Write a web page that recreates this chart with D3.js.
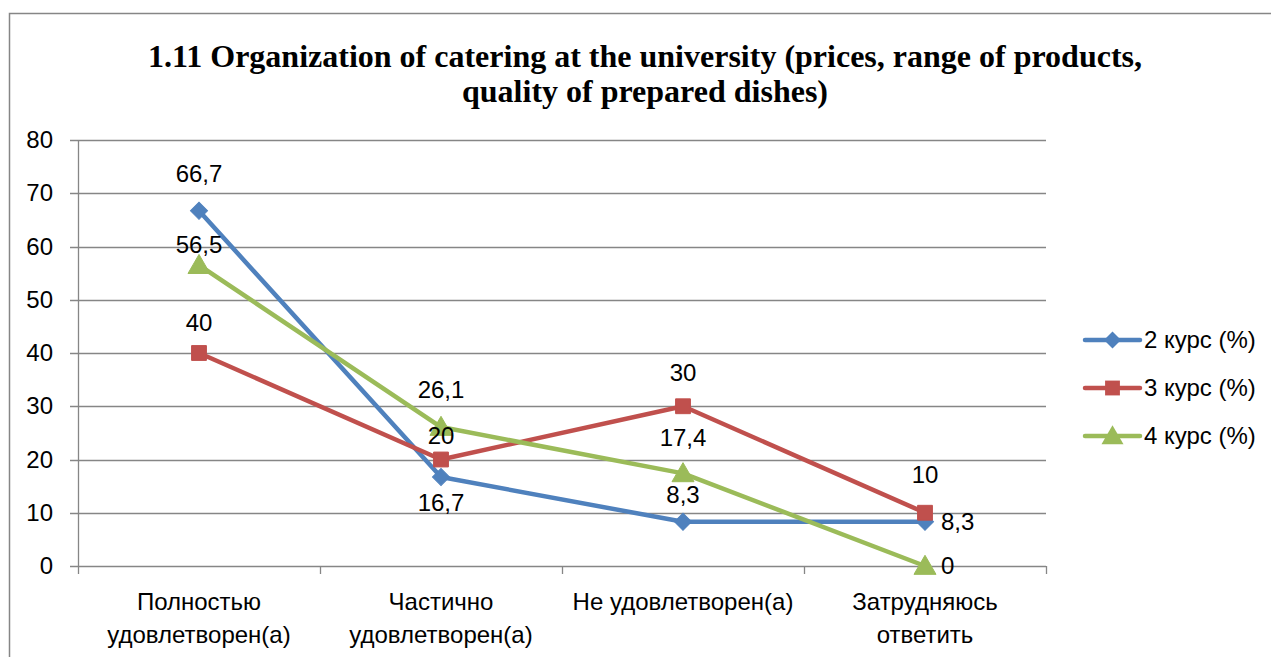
<!DOCTYPE html>
<html>
<head>
<meta charset="utf-8">
<script src="https://cdn.jsdelivr.net/npm/d3@7"></script>
<style>
  body { margin: 0; background: #fff; }
  svg text { font-family: "Liberation Sans", Arial, sans-serif; }
</style>
</head>
<body>
<svg id="chart" width="1271" height="657"></svg>
<script>
// data
const categories = [["Полностью", "удовлетворен(а)"], ["Частично", "удовлетворен(а)"], ["Не удовлетворен(а)"], ["Затрудняюсь", "ответить"]];
const seriesNames = ["2 курс (%)", "3 курс (%)", "4 курс (%)"];
const kurs2 = [66.7, 16.7, 8.3, 8.3];
const kurs3 = [40, 20, 30, 10];
const kurs4 = [56.5, 26.1, 17.4, 0];
const yTicks = [0, 10, 20, 30, 40, 50, 60, 70, 80];
const titleLines = ["1.11 Organization of catering at the university (prices, range of products,", "quality of prepared dishes)"];

// label placement per series (dx, dy from the point)
const labelPos = [
  [[0, -29], [0, 34], [0, -19], [16, 8]],
  [[0, -22], [0, -16], [0, -25], [0, -30]],
  [[0, -12], [0, -29], [0, -27], [16, 8]]
];

const colors = ["#4F81BD", "#C0504D", "#9BBB59"];
const series = [kurs2, kurs3, kurs4];
const fontSize = "24px";

const svg = d3.select("#chart");

// outer border (only left and top are in frame)
svg.append("path")
  .attr("d", "M9.5,660 V13.5 H1275")
  .attr("fill", "none")
  .attr("stroke", "#868686")
  .attr("stroke-width", 1.5);

// title
svg.append("g").selectAll("text")
  .data(titleLines)
  .enter()
  .append("text")
  .attr("x", 645)
  .attr("y", (d, i) => 67 + i * 35)
  .attr("text-anchor", "middle")
  .style("font-family", "'Liberation Serif', 'Times New Roman', serif")
  .style("font-weight", "bold")
  .style("font-size", "32px")
  .text(d => d);

const x = d3.scaleBand()
  .domain(d3.range(categories.length))
  .range([78, 1046]);

const y = d3.scaleLinear()
  .domain([0, 80])
  .range([566, 140]);

// gridlines
svg.append("g").selectAll("line")
  .data(yTicks)
  .enter()
  .append("line")
  .attr("x1", 70)
  .attr("x2", 1046)
  .attr("y1", d => Math.round(y(d)) + 0.5)
  .attr("y2", d => Math.round(y(d)) + 0.5)
  .attr("stroke", "#868686")
  .attr("stroke-width", 1.3);

// y axis line
svg.append("line")
  .attr("x1", 78.5).attr("x2", 78.5)
  .attr("y1", y(80)).attr("y2", y(0))
  .attr("stroke", "#868686")
  .attr("stroke-width", 1.3);

// y tick labels
svg.append("g").selectAll("text")
  .data(yTicks)
  .enter()
  .append("text")
  .attr("x", 53)
  .attr("y", d => y(d) + 8)
  .attr("text-anchor", "end")
  .style("font-size", fontSize)
  .text(d => d);

// x tick marks at band edges
const edges = d3.range(categories.length + 1).map(i => x.range()[0] + i * x.step());
svg.append("g").selectAll("line")
  .data(edges)
  .enter()
  .append("line")
  .attr("x1", d => Math.round(d) + 0.5)
  .attr("x2", d => Math.round(d) + 0.5)
  .attr("y1", y(0))
  .attr("y2", y(0) + 8)
  .attr("stroke", "#868686")
  .attr("stroke-width", 1.3);

// category labels
const catG = svg.append("g").selectAll("text")
  .data(categories)
  .enter()
  .append("text")
  .attr("text-anchor", "middle")
  .style("font-size", fontSize);
catG.selectAll("tspan")
  .data((d, i) => d.map(t => ({ t: t, i: i })))
  .enter()
  .append("tspan")
  .attr("x", d => x(d.i) + x.bandwidth() / 2)
  .attr("y", (d, j) => 610 + j * 33)
  .text(d => d.t);

const cx = i => x(i) + x.bandwidth() / 2;
const line = d3.line().x((d, i) => cx(i)).y(d => y(d));

// lines
svg.append("g").selectAll("path")
  .data(series)
  .enter()
  .append("path")
  .attr("d", d => line(d))
  .attr("fill", "none")
  .attr("stroke", (d, i) => colors[i])
  .attr("stroke-width", 4.5)
  .attr("stroke-linejoin", "round");

// excel-like markers: diamond is a square turned 45deg
const symbols = [d3.symbolSquare, d3.symbolSquare, d3.symbolTriangle];
const symSize = [145, 220, 210];
const symRot = [45, 0, 0];
const markerPath = (k) => d3.symbol().type(symbols[k]).size(symSize[k])();

// markers
series.forEach((vals, k) => {
  svg.append("g").selectAll("path")
    .data(vals)
    .enter()
    .append("path")
    .attr("d", markerPath(k))
    .attr("transform", (d, i) => "translate(" + cx(i) + "," + (y(d) + (k === 2 ? 2 : 0)) + ") rotate(" + symRot[k] + ")")
    .attr("fill", colors[k])
    .attr("stroke", colors[k])
    .attr("stroke-width", 1);
});

// data labels
series.forEach((vals, k) => {
  svg.append("g").selectAll("text")
    .data(vals)
    .enter()
    .append("text")
    .attr("x", (d, i) => cx(i) + labelPos[k][i][0])
    .attr("y", (d, i) => y(d) + labelPos[k][i][1])
    .attr("text-anchor", (d, i) => labelPos[k][i][0] > 0 ? "start" : "middle")
    .style("font-size", fontSize)
    .text(d => String(d).replace(".", ","));
});

// legend
const leg = svg.append("g").selectAll("g")
  .data(seriesNames)
  .enter()
  .append("g")
  .attr("transform", (d, i) => "translate(1085," + (340 + i * 48) + ")");
leg.append("line")
  .attr("x1", 0).attr("x2", 55)
  .attr("stroke", (d, i) => colors[i])
  .attr("stroke-width", 4.5)
  .attr("stroke-linecap", "round");
leg.append("path")
  .attr("d", (d, i) => markerPath(i))
  .attr("transform", (d, i) => "translate(27.5," + (i === 2 ? 2 : 0) + ") rotate(" + symRot[i] + ")")
  .attr("fill", (d, i) => colors[i]);
leg.append("text")
  .attr("x", 59)
  .attr("y", 8)
  .style("font-size", fontSize)
  .text(d => d);
</script>
</body>
</html>
